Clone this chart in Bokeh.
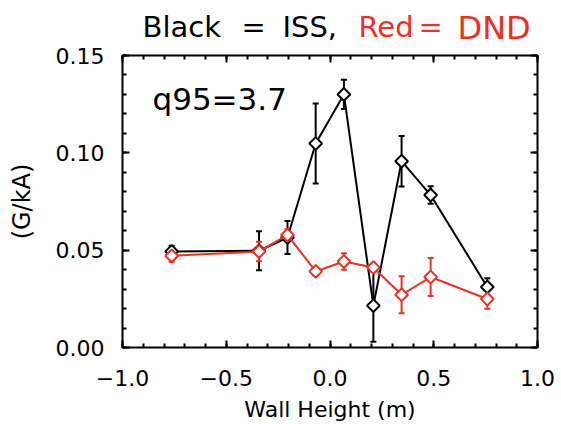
import numpy as np
from bokeh.plotting import figure
from bokeh.layouts import column, row
from bokeh.models import (ColumnDataSource, Whisker, TeeHead, Label, LinearAxis,
                          SingleIntervalTicker, CustomJSTickFormatter, Range1d)
from bokeh.embed import file_html
from bokeh.resources import INLINE

# ---- data ----
wall_height = [-0.763, -0.342, -0.205, -0.069, 0.067, 0.209, 0.345, 0.485, 0.758]
iss_vals = [0.0493, 0.0497, 0.0565, 0.1048, 0.1300, 0.0215, 0.0957, 0.0783, 0.0311]
iss_err = [0.0030, 0.0100, 0.0085, 0.0205, 0.0075, 0.0185, 0.0130, 0.0045, 0.0045]
dnd_vals = [0.0471, 0.0493, 0.0578, 0.0391, 0.0442, 0.0411, 0.0271, 0.0362, 0.0249]
dnd_err = [0.0030, 0.0050, 0.0030, 0.0020, 0.0042, 0.0020, 0.0095, 0.0098, 0.0050]
x_ticks_interval = 0.5
y_ticks_interval = 0.05
title_parts = ["Black", "=", "ISS,", "Red", "=", "DND"]
annotation = "q95=3.7"
x_label = "Wall Height (m)"
y_label = "(G/kA)"

FONT = "DejaVu Sans"
RED = "#ee3020"

TOP_H = 45
W, H = 561, 424

p = figure(width=W, height=H - TOP_H, output_backend="svg", toolbar_location=None,
           x_range=Range1d(-1.0, 1.0), y_range=Range1d(0.0, 0.1500001),
           min_border_left=122, min_border_right=24, min_border_top=55 - TOP_H,
           min_border_bottom=76, x_axis_location=None, y_axis_location=None)
p.background_fill_color = "white"
p.border_fill_color = "white"
p.grid.visible = False
p.outline_line_color = "black"
p.outline_line_width = 2

xt = SingleIntervalTicker(interval=x_ticks_interval, num_minor_ticks=5)
yt = SingleIntervalTicker(interval=y_ticks_interval, num_minor_ticks=5)
xfmt = CustomJSTickFormatter(code="return (tick < -1e-9 ? '\u2212' : '') + Math.abs(tick).toFixed(1);")
yfmt = CustomJSTickFormatter(code="return Math.abs(tick).toFixed(2);")

def style(ax, labels=True):
    ax.major_tick_in = 7
    ax.major_tick_out = 0
    ax.minor_tick_in = 4
    ax.minor_tick_out = 0
    ax.major_tick_line_width = 2
    ax.minor_tick_line_width = 2
    ax.major_tick_line_color = "black"
    ax.minor_tick_line_color = "black"
    ax.axis_line_color = None
    if labels:
        ax.major_label_text_font = FONT
        ax.major_label_text_font_size = "22px"
        ax.major_label_text_color = "black"
        ax.major_label_text_line_height = 1.0
    else:
        ax.major_label_text_font_size = "0px"
        ax.major_label_text_alpha = 0
        ax.major_label_standoff = 0

xb = LinearAxis(ticker=xt, formatter=xfmt)
style(xb)
xb.major_label_standoff = 22
xb.axis_label = x_label
xb.axis_label_text_font = FONT
xb.axis_label_text_font_size = "22px"
xb.axis_label_text_font_style = "normal"
xb.axis_label_text_color = "black"
xb.axis_label_standoff = 8
p.add_layout(xb, "below")

yl = LinearAxis(ticker=yt, formatter=yfmt)
style(yl)
yl.major_label_standoff = 18
yl.axis_label = y_label
yl.axis_label_text_font = FONT
yl.axis_label_text_font_size = "24px"
yl.axis_label_text_font_style = "normal"
yl.axis_label_text_color = "black"
yl.axis_label_standoff = 17
p.add_layout(yl, "left")

xa = LinearAxis(ticker=xt)
style(xa, labels=False)
p.add_layout(xa, "above")
yr = LinearAxis(ticker=yt)
style(yr, labels=False)
p.add_layout(yr, "right")

def series(vals, errs, color):
    src = ColumnDataSource(dict(x=wall_height, y=vals,
                                lo=[v - e for v, e in zip(vals, errs)],
                                hi=[v + e for v, e in zip(vals, errs)]))
    p.line("x", "y", source=src, line_color=color, line_width=2)
    w = Whisker(base="x", upper="hi", lower="lo", source=src, dimension="height",
                line_color=color, line_width=2,
                upper_head=TeeHead(size=6, line_color=color, line_width=2),
                lower_head=TeeHead(size=6, line_color=color, line_width=2))
    p.add_layout(w)
    p.scatter("x", "y", source=src, marker="square", angle=np.pi / 4, size=9,
              line_color=color, line_width=2, fill_color="white")

series(iss_vals, iss_err, "black")
series(dnd_vals, dnd_err, RED)

# frame-relative screen coordinates (frame left = 122, frame bottom = 348 on the page)
FL, FB = 122, 348
p.add_layout(Label(x=152 - FL, y=FB - 99, x_units="screen", y_units="screen",
                   text=annotation, text_font=FONT, text_font_size="31px",
                   text_color="black", text_baseline="alphabetic"))

top = figure(width=W, height=TOP_H, output_backend="svg", toolbar_location=None,
             x_range=Range1d(0, W), y_range=Range1d(0, TOP_H),
             min_border=0, x_axis_location=None, y_axis_location=None)
top.grid.visible = False
top.outline_line_color = None
top.background_fill_color = "white"
top.border_fill_color = "white"

title_x = [142, 241, 282, 358, 418, 457]
title_base = [26, 26, 26, 26, 26, 27]
title_size = ["29px", "29px", "29px", "29px", "29px", "32px"]
title_col = ["black", "black", "black", RED, RED, RED]
for t, tx, ty, ts, tc in zip(title_parts, title_x, title_base, title_size, title_col):
    top.add_layout(Label(x=tx, y=TOP_H - ty, text=t, text_font=FONT, text_font_size=ts,
                         text_color=tc, text_baseline="alphabetic"))

layout = column(top, row(p, spacing=0), spacing=0)
open("out.html", "w").write(file_html(layout, INLINE))
